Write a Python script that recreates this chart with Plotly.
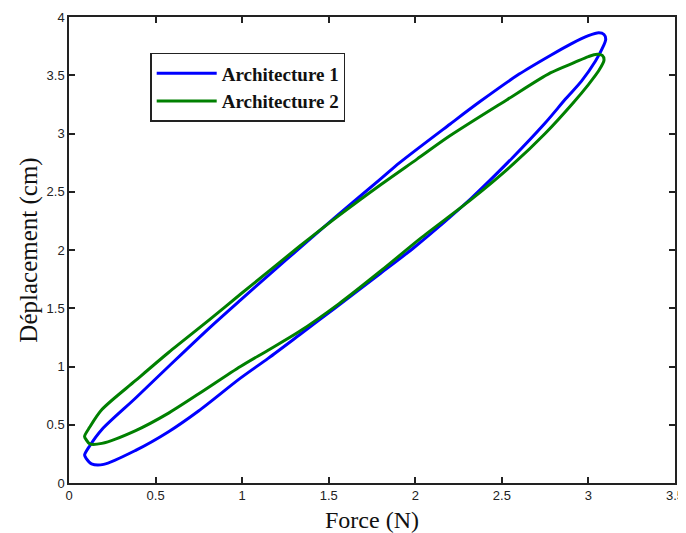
import plotly.graph_objects as go

# Architecture 1 (blue) hysteresis loop: force (N) vs displacement (cm)
arch1_force = [0.10, 0.13, 0.20, 0.385, 0.575, 0.75, 0.99, 1.15, 1.33, 1.535, 1.80, 2.00, 2.32, 2.56, 2.75,
               2.87, 2.96, 3.04, 3.08, 3.10, 3.09, 3.06, 3.00,
               2.90, 2.78, 2.60, 2.37, 2.20, 1.91, 1.80, 1.545, 1.25, 0.99, 0.81, 0.575, 0.385, 0.19, 0.12,
               0.09, 0.10]
arch1_disp = [0.21, 0.165, 0.16, 0.28, 0.44, 0.62, 0.90, 1.07, 1.27, 1.50, 1.80, 2.03, 2.44, 2.79, 3.09,
              3.30, 3.45, 3.62, 3.73, 3.81, 3.85, 3.865, 3.84,
              3.77, 3.67, 3.51, 3.27, 3.08, 2.75, 2.61, 2.29, 1.91, 1.57, 1.33, 1.00, 0.73, 0.46, 0.32,
              0.24, 0.21]

# Architecture 2 (green) hysteresis loop
arch2_force = [0.10, 0.12, 0.19, 0.385, 0.575, 0.754, 0.99, 1.15, 1.33, 1.56, 1.80, 2.03, 2.32, 2.56, 2.75,
               2.91, 3.00, 3.06, 3.09, 3.08, 3.05,
               3.00, 2.92, 2.78, 2.53, 2.20, 2.01, 1.80, 1.545, 1.33, 0.99, 0.81, 0.575, 0.385, 0.19, 0.12,
               0.09, 0.10]
arch2_disp = [0.37, 0.335, 0.34, 0.45, 0.60, 0.77, 1.00, 1.14, 1.30, 1.54, 1.82, 2.10, 2.43, 2.73, 3.00,
              3.26, 3.42, 3.54, 3.63, 3.67, 3.68,
              3.66, 3.61, 3.52, 3.29, 2.98, 2.78, 2.56, 2.28, 2.03, 1.62, 1.40, 1.12, 0.88, 0.63, 0.48,
              0.40, 0.37]

x_ticks = [0, 0.5, 1, 1.5, 2, 2.5, 3, 3.5]
x_tick_labels = ["0", "0.5", "1", "1.5", "2", "2.5", "3", "3.5"]
y_ticks = [0, 0.5, 1, 1.5, 2, 2.5, 3, 3.5, 4]
y_tick_labels = ["0", "0.5", "1", "1.5", "2", "2.5", "3", "3.5", "4"]

fig = go.Figure()
fig.add_trace(go.Scatter(x=arch1_force, y=arch1_disp, mode="lines", name="Architecture 1",
                         line=dict(color="#0000FF", width=3, shape="spline", smoothing=0.8)))
fig.add_trace(go.Scatter(x=arch2_force, y=arch2_disp, mode="lines", name="Architecture 2",
                         line=dict(color="#008000", width=3, shape="spline", smoothing=0.8)))

axis_common = dict(showline=True, linecolor="#222222", linewidth=1.5, mirror="ticks",
                   ticks="inside", ticklen=6, tickwidth=1.5, tickcolor="#222222",
                   showgrid=False, zeroline=False, automargin=False,
                   tickfont=dict(family="Liberation Sans, Arial", size=13, color="#222222"))

fig.update_xaxes(range=[0, 3.5], tickvals=x_ticks, ticktext=x_tick_labels,
                 title=dict(text="Force (N)", standoff=16,
                            font=dict(family="Liberation Serif, Times New Roman", size=24, color="#111111")),
                 **axis_common)
fig.update_yaxes(range=[0, 4], tickvals=y_ticks, ticktext=y_tick_labels,
                 title=dict(text="Déplacement (cm)", standoff=2,
                            font=dict(family="Liberation Serif, Times New Roman", size=25, color="#111111")),
                 **axis_common)

# page body has an 8px margin, so the figure is sized/margined to land where the reference does
fig.update_layout(
    width=678, height=525,
    margin=dict(l=61, r=11, t=9, b=50, autoexpand=False),
    paper_bgcolor="white", plot_bgcolor="white",
    showlegend=True,
    legend=dict(x=0.134, y=0.923, xanchor="left", yanchor="top",
                bgcolor="white", bordercolor="#222222", borderwidth=1.5,
                font=dict(family="Liberation Serif, Times New Roman", size=19, color="#111111",
                          weight="bold"),
                itemwidth=60, tracegroupgap=4),
)

fig.write_html("out.html")
